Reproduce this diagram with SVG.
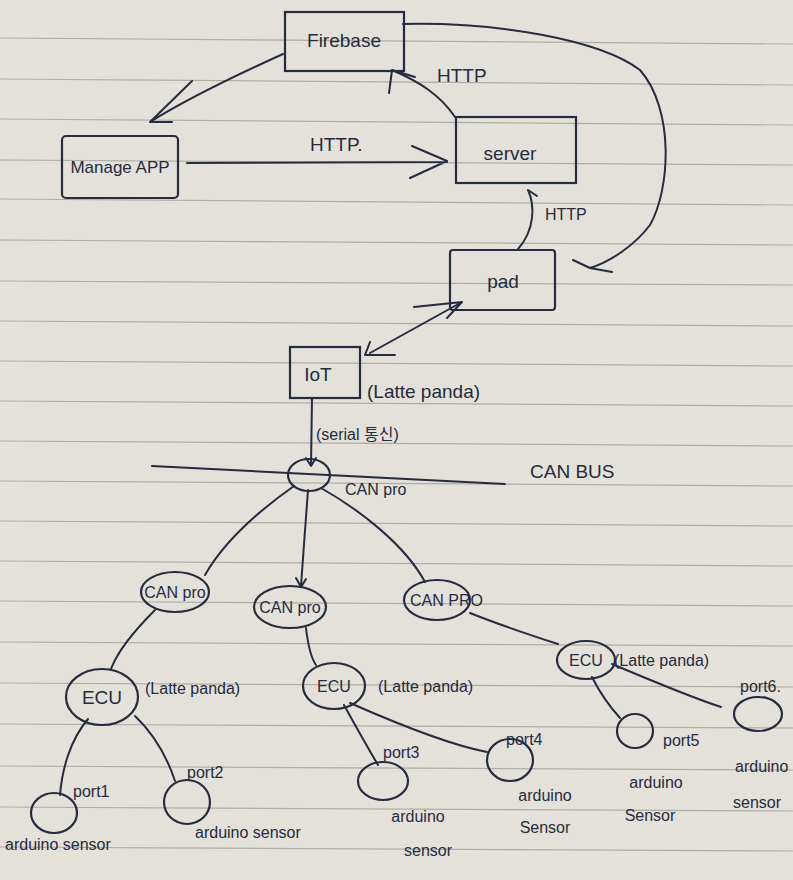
<svg xmlns="http://www.w3.org/2000/svg" width="793" height="880" viewBox="0 0 793 880">
<defs>
<style>
.paper{fill:#e3e1d9}
.rule{stroke:#aeaca6;stroke-width:1.2}
.box{fill:none;stroke:#262b40;stroke-width:2.2}
.ln{fill:none;stroke:#262b40;stroke-width:2;stroke-linecap:round;stroke-linejoin:round}
.t{font-family:"Liberation Sans","Noto Sans CJK KR",sans-serif;fill:#262b40;font-size:19px}
.s{font-size:16px}
.m{text-anchor:middle}
</style>
</defs>
<rect class="paper" x="0" y="0" width="793" height="880"/>
<g id="ruled-lines">
<line class="rule" x1="0" y1="38" x2="793" y2="44"/>
<line class="rule" x1="0" y1="79" x2="793" y2="85"/>
<line class="rule" x1="0" y1="119" x2="793" y2="125"/>
<line class="rule" x1="0" y1="160" x2="793" y2="165"/>
<line class="rule" x1="0" y1="199" x2="793" y2="205"/>
<line class="rule" x1="0" y1="240" x2="793" y2="245"/>
<line class="rule" x1="0" y1="281" x2="793" y2="285"/>
<line class="rule" x1="0" y1="321" x2="793" y2="326"/>
<line class="rule" x1="0" y1="361" x2="793" y2="366"/>
<line class="rule" x1="0" y1="401" x2="793" y2="406"/>
<line class="rule" x1="0" y1="441" x2="793" y2="446"/>
<line class="rule" x1="0" y1="481" x2="793" y2="486"/>
<line class="rule" x1="0" y1="521" x2="793" y2="526"/>
<line class="rule" x1="0" y1="561" x2="793" y2="566"/>
<line class="rule" x1="0" y1="601" x2="793" y2="606"/>
<line class="rule" x1="0" y1="642" x2="793" y2="646"/>
<line class="rule" x1="0" y1="683" x2="793" y2="687"/>
<line class="rule" x1="0" y1="724" x2="793" y2="728"/>
<line class="rule" x1="0" y1="766" x2="793" y2="770"/>
<line class="rule" x1="0" y1="807" x2="793" y2="811"/>
<line class="rule" x1="0" y1="847" x2="793" y2="851"/>
</g>
<g id="connectors">
<path class="ln" d="M283,54 C230,78 185,100 150,122 M150,122 L192,81 M150,122 L172,122"/>
<path class="ln" d="M187,163 L447,162 M412,146 L447,161 L410,178"/>
<text class="t" x="310" y="151">HTTP.</text>
<path class="ln" d="M455,117 C440,95 420,82 392,70 M392,70 L415,77 M392,70 L389,93"/>
<text class="t" x="437" y="82">HTTP</text>
<path class="ln" d="M518,249 C535,230 535,205 528,190 M528,190 L537,196"/>
<text class="t s" x="545" y="220">HTTP</text>
<path class="ln" d="M403,24 C500,22 600,40 640,70 C675,110 670,190 650,225 C635,245 610,262 590,268 M590,268 L573,260 M590,268 L612,272"/>
<path class="ln" d="M370,353 L462,302 M462,302 L414,307 M462,302 L447,318 M365,355 L370,342 M365,355 L395,355"/>
<path class="ln" d="M312,398 L311,466 M306,458 L311,466 L316,458"/>
<path class="ln" d="M152,466 L505,484"/>
<path class="ln" d="M294,486 C260,510 225,540 205,575"/>
<path class="ln" d="M308,490 C306,520 303,555 301,586 M296,578 L301,587 L306,579"/>
<path class="ln" d="M321,488 C360,510 405,545 425,582"/>
<path class="ln" d="M155,610 C135,630 118,650 111,669"/>
<path class="ln" d="M306,628 C308,645 311,658 316,665"/>
<path class="ln" d="M470,613 C500,625 530,635 558,644"/>
<path class="ln" d="M88,719 C70,740 62,770 60,795"/>
<path class="ln" d="M135,716 C155,735 168,760 175,781"/>
<path class="ln" d="M344,705 C355,725 368,748 378,765"/>
<path class="ln" d="M350,703 C400,725 450,745 487,752"/>
<path class="ln" d="M592,677 C600,693 610,707 620,718"/>
<path class="ln" d="M612,664 C650,680 690,697 721,707"/>
</g>
<g id="firebase">
<rect class="box" x="285" y="12" width="119" height="59"/>
<text class="t m" x="344" y="47">Firebase</text>
</g>
<g id="manage-app">
<rect class="box" x="62" y="136" width="116" height="62" rx="4"/>
<text class="t m" x="120" y="173" style="font-size:17px">Manage APP</text>
</g>
<g id="server">
<rect class="box" x="456" y="117" width="120" height="66"/>
<text class="t m" x="510" y="160">server</text>
</g>
<g id="pad">
<rect class="box" x="450" y="250" width="105" height="60" rx="3"/>
<text class="t m" x="503" y="288">pad</text>
</g>
<g id="iot">
<rect class="box" x="290" y="347" width="70" height="51"/>
<text class="t m" x="318" y="381">IoT</text>
<text class="t" x="367" y="398">(Latte panda)</text>
<text class="t s" x="316" y="440">(serial 통신)</text>
</g>
<g id="can-bus-label">
<text class="t" x="530" y="478">CAN BUS</text>
</g>
<g id="can-pro-hub">
<ellipse class="box" cx="309" cy="475" rx="21" ry="16"/>
<text class="t s" x="345" y="495">CAN pro</text>
</g>
<g id="can-pro-1">
<ellipse class="box" cx="175" cy="592" rx="34" ry="20"/>
<text class="t m s" x="175" y="598">CAN pro</text>
</g>
<g id="can-pro-2">
<ellipse class="box" cx="290" cy="607" rx="36" ry="21"/>
<text class="t m s" x="290" y="613">CAN pro</text>
</g>
<g id="can-pro-3">
<ellipse class="box" cx="437" cy="600" rx="33" ry="20"/>
<text class="t s" x="410" y="606">CAN PRO</text>
</g>
<g id="ecu-1">
<ellipse class="box" cx="102" cy="697" rx="36" ry="28"/>
<text class="t m" x="102" y="704">ECU</text>
<text class="t s" x="145" y="694">(Latte panda)</text>
</g>
<g id="ecu-2">
<ellipse class="box" cx="334" cy="686" rx="31" ry="23"/>
<text class="t m s" x="334" y="692">ECU</text>
<text class="t s" x="378" y="692">(Latte panda)</text>
</g>
<g id="ecu-3">
<ellipse class="box" cx="586" cy="660" rx="29" ry="19"/>
<text class="t m s" x="586" y="666">ECU</text>
<text class="t s" x="614" y="666">(Latte panda)</text>
</g>
<g id="port1">
<ellipse class="box" cx="54" cy="813" rx="23" ry="20"/>
<text class="t s" x="73" y="797">port1</text>
<text class="t s" x="5" y="850">arduino sensor</text>
</g>
<g id="port2">
<ellipse class="box" cx="187" cy="802" rx="23" ry="22"/>
<text class="t s" x="187" y="778">port2</text>
<text class="t s" x="195" y="838">arduino sensor</text>
</g>
<g id="port3">
<ellipse class="box" cx="383" cy="781" rx="25" ry="19"/>
<text class="t s" x="383" y="758">port3</text>
<text class="t m s" x="418" y="822">arduino</text>
<text class="t m s" x="428" y="856">sensor</text>
</g>
<g id="port4">
<ellipse class="box" cx="510" cy="760" rx="23" ry="21"/>
<text class="t s" x="506" y="745">port4</text>
<text class="t m s" x="545" y="801">arduino</text>
<text class="t m s" x="545" y="833">Sensor</text>
</g>
<g id="port5">
<ellipse class="box" cx="635" cy="731" rx="18" ry="17"/>
<text class="t s" x="663" y="746">port5</text>
<text class="t m s" x="656" y="788">arduino</text>
<text class="t m s" x="650" y="821">Sensor</text>
</g>
<g id="port6">
<ellipse class="box" cx="758" cy="714" rx="24" ry="17"/>
<text class="t s" x="740" y="692">port6.</text>
<text class="t s" x="735" y="772">arduino</text>
<text class="t s" x="733" y="808">sensor</text>
</g>
</svg>
